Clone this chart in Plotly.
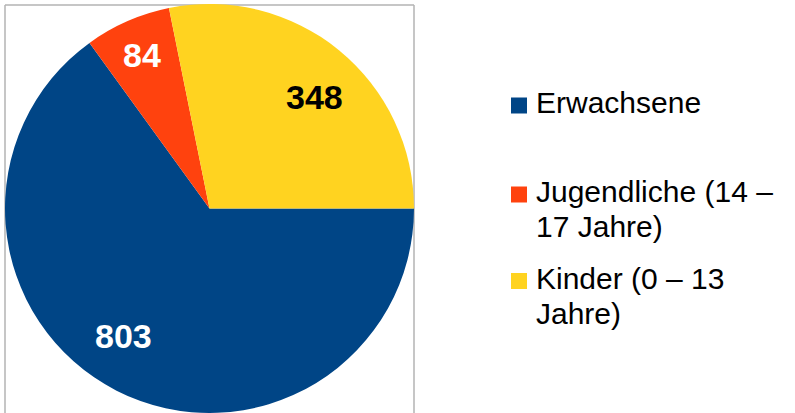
import math
import plotly.graph_objects as go

labels = ["Erwachsene", "Jugendliche (14 – 17 Jahre)", "Kinder (0 – 13 Jahre)"]
values = [803, 84, 348]
colors = ["#004586", "#ff420e", "#ffd320"]
text_colors = ["white", "white", "black"]
legend_lines = [["Erwachsene"], ["Jugendliche (14 –", "17 Jahre)"], ["Kinder (0 – 13", "Jahre)"]]

W, H = 795, 413
CX, CY, R = 209.5, 208.5, 204.5
START = 90  # degrees clockwise from 12 o'clock

fig = go.Figure()
fig.add_trace(go.Pie(
    labels=labels, values=values, sort=False, direction="clockwise", rotation=START,
    marker=dict(colors=colors, line=dict(width=0)),
    textinfo="none",
    domain=dict(x=[(CX - R) / W, (CX + R) / W], y=[1 - (CY + R) / H, 1 - (CY - R) / H]),
    showlegend=False, hoverinfo="label+value",
))

# value labels placed along each slice's mid angle
label_r = [0.75, 0.82, 0.75]
label_dtheta = [7, 0, 4]
total = sum(values)
cum = 0
for i, v in enumerate(values):
    theta = math.radians(START + 360 * (cum + v / 2) / total + label_dtheta[i])
    cum += v
    px = CX + label_r[i] * R * math.sin(theta)
    py = CY - label_r[i] * R * math.cos(theta)
    fig.add_annotation(x=px / W, y=1 - py / H, xref="paper", yref="paper",
                       text=f"<b>{v}</b>", showarrow=False, xanchor="center", yanchor="middle",
                       font=dict(family="Liberation Sans, Arial", size=34, color=text_colors[i]))

# frame
fc = "#b3b3b3"
for x0, y0, x1, y1 in [(5, 5, 414, 5), (5, 5, 5, H), (414, 5, 414, H)]:
    fig.add_shape(type="line", xref="paper", yref="paper",
                  x0=x0 / W, x1=x1 / W, y0=1 - y0 / H, y1=1 - y1 / H,
                  line=dict(color=fc, width=1.5), layer="below")

# legend
item_y = [102.5, 191.5, 278]
line_gap = 35
for i, lines in enumerate(legend_lines):
    yc = item_y[i]
    fig.add_shape(type="rect", xref="paper", yref="paper",
                  x0=511 / W, x1=527 / W, y0=1 - (yc - 5) / H, y1=1 - (yc + 11) / H,
                  fillcolor=colors[i], line=dict(width=0))
    for j, t in enumerate(lines):
        fig.add_annotation(x=534 / W, y=1 - (yc + j * line_gap) / H, xref="paper", yref="paper",
                           text=t, showarrow=False, xanchor="left", yanchor="middle",
                           font=dict(family="Liberation Sans, Arial", size=30, color="#000000"))

fig.update_layout(width=W, height=H, margin=dict(l=0, r=0, t=0, b=0),
                  paper_bgcolor="white", plot_bgcolor="white")
fig.write_html("out.html", config={"displayModeBar": False},
               post_script="document.body.style.margin='0';document.body.style.overflow='hidden';")
